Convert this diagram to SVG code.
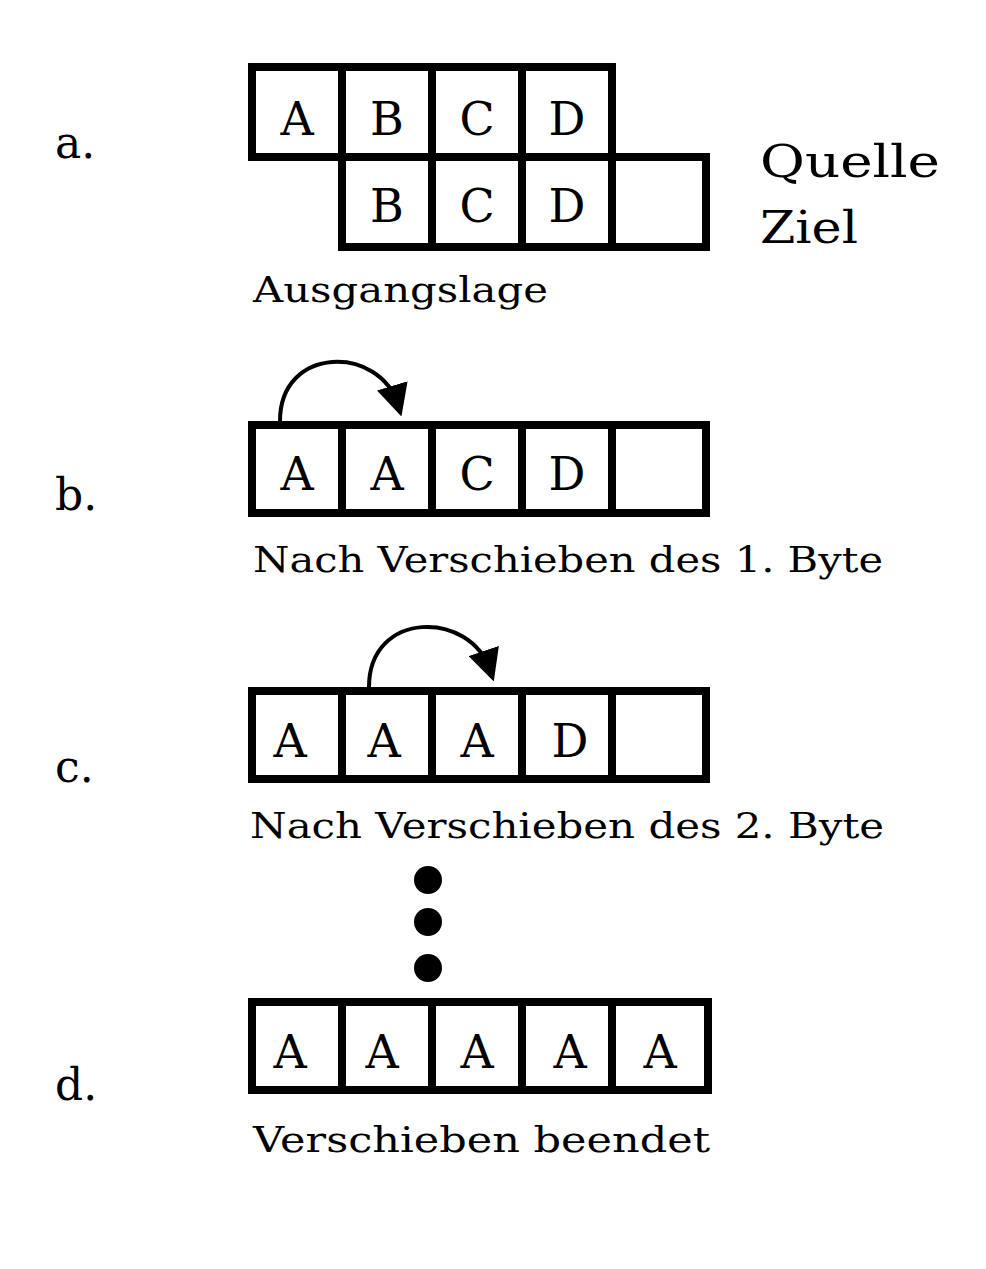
<svg xmlns="http://www.w3.org/2000/svg" width="986" height="1269" viewBox="0 0 986 1269">
<defs>
<style>
.c{fill:#fff;stroke:#000;stroke-width:8}
.l{font-family:"DejaVu Serif","Liberation Serif",serif;font-size:46px;text-anchor:middle}
.t{font-family:"DejaVu Serif","Liberation Serif",serif;font-size:36px}
.k{font-family:"DejaVu Serif","Liberation Serif",serif;font-size:44px}
.a{fill:none;stroke:#000;stroke-width:4}
</style>
<marker id="m" markerWidth="8" markerHeight="8" refX="5" refY="4" orient="auto" markerUnits="strokeWidth"><path d="M0,0 L8,4 L0,8 z"/></marker>
</defs>
<rect width="986" height="1269" fill="#fff"/>
<g id="a">
<text class="k" x="55" y="158">a.</text>
<rect class="c" x="252" y="67" width="90" height="90"/><rect class="c" x="342" y="67" width="90" height="90"/><rect class="c" x="432" y="67" width="90" height="90"/><rect class="c" x="522" y="67" width="90" height="90"/>
<rect class="c" x="342" y="157" width="90" height="90"/><rect class="c" x="432" y="157" width="90" height="90"/><rect class="c" x="522" y="157" width="90" height="90"/><rect class="c" x="612" y="157" width="94" height="90"/>
<text class="l" x="297" y="135">A</text><text class="l" x="387" y="135">B</text><text class="l" x="477" y="135">C</text><text class="l" x="567" y="135">D</text>
<text class="l" x="387" y="222">B</text><text class="l" x="477" y="222">C</text><text class="l" x="567" y="222">D</text>
<text class="k" x="760" y="177" font-size="48" textLength="180" lengthAdjust="spacingAndGlyphs">Quelle</text><text class="k" x="760" y="243" font-size="48" textLength="98" lengthAdjust="spacingAndGlyphs">Ziel</text>
<text class="t" x="253" y="302" textLength="295" lengthAdjust="spacingAndGlyphs">Ausgangslage</text>
</g>
<g id="b">
<text class="k" x="55" y="510">b.</text>
<rect class="c" x="252" y="425" width="90" height="88"/><rect class="c" x="342" y="425" width="90" height="88"/><rect class="c" x="432" y="425" width="90" height="88"/><rect class="c" x="522" y="425" width="90" height="88"/><rect class="c" x="612" y="425" width="94" height="88"/>
<text class="l" x="297" y="490">A</text><text class="l" x="387" y="490">A</text><text class="l" x="477" y="490">C</text><text class="l" x="567" y="490">D</text>
<text class="t" x="253" y="572" textLength="630" lengthAdjust="spacingAndGlyphs">Nach Verschieben des 1. Byte</text>
</g>
<g id="c">
<text class="k" x="55" y="782">c.</text>
<rect class="c" x="252" y="691" width="90" height="88"/><rect class="c" x="342" y="691" width="90" height="88"/><rect class="c" x="432" y="691" width="90" height="88"/><rect class="c" x="522" y="691" width="90" height="88"/><rect class="c" x="612" y="691" width="94" height="88"/>
<text class="l" x="290" y="757">A</text><text class="l" x="384" y="757">A</text><text class="l" x="477" y="757">A</text><text class="l" x="570" y="757">D</text>
<text class="t" x="250" y="838" textLength="634" lengthAdjust="spacingAndGlyphs">Nach Verschieben des 2. Byte</text>
</g>
<g id="dots"><circle cx="428" cy="880" r="14"/><circle cx="428" cy="922" r="14"/><circle cx="428" cy="968" r="14"/></g>
<g id="d">
<text class="k" x="55" y="1100">d.</text>
<rect class="c" x="252" y="1002" width="90" height="88"/><rect class="c" x="342" y="1002" width="90" height="88"/><rect class="c" x="432" y="1002" width="90" height="88"/><rect class="c" x="522" y="1002" width="90" height="88"/><rect class="c" x="612" y="1002" width="96" height="88"/>
<text class="l" x="290" y="1068">A</text><text class="l" x="382" y="1068">A</text><text class="l" x="477" y="1068">A</text><text class="l" x="570" y="1068">A</text><text class="l" x="660" y="1068">A</text>
<text class="t" x="253" y="1152" textLength="457" lengthAdjust="spacingAndGlyphs">Verschieben beendet</text>
</g>
<g id="connectors">
<path class="a" d="M280,421 C280,345 380,345 398,405" marker-end="url(#m)"/>
<path class="a" d="M369,687 C369,610 470,610 490,670" marker-end="url(#m)"/>
</g>
</svg>
